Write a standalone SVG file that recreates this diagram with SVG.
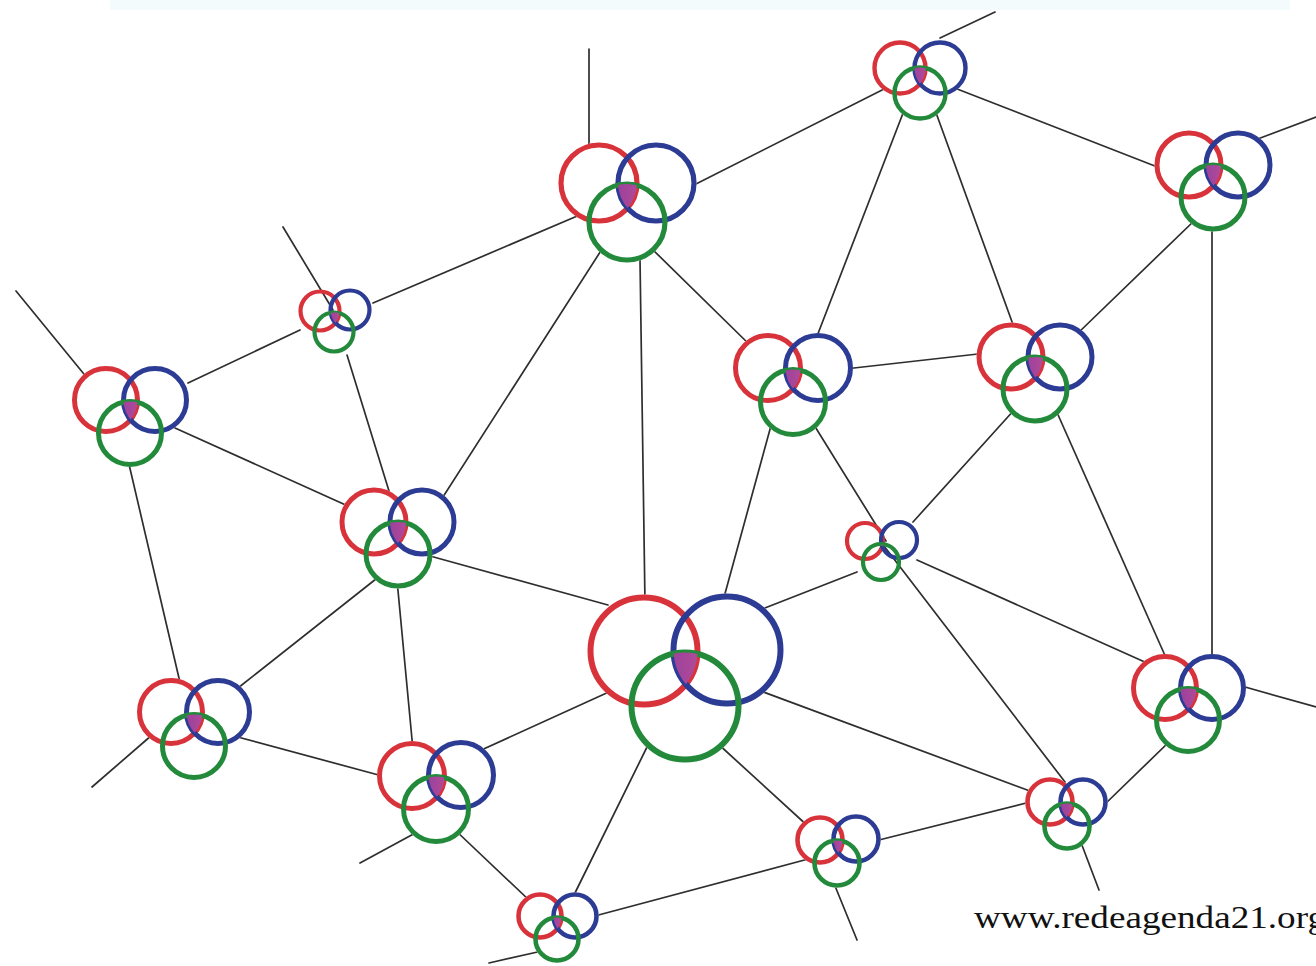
<svg xmlns="http://www.w3.org/2000/svg" width="1316" height="966" viewBox="0 0 1316 966">
<style>
.edge{stroke:#2e2e2e;stroke-width:1.7;fill:none;stroke-linecap:round}
.bg{fill:#fff;stroke:#fff}
.r{fill:none;stroke:#d8333b}
.b{fill:none;stroke:#2c3b93}
.g{fill:none;stroke:#238a3b}
.tri{fill:url(#purp);stroke:none}
.lbl{font-family:"Liberation Serif","Times New Roman",serif;font-size:31px;fill:#111}
</style>
<defs>
<linearGradient id="purp" x1="0" y1="0" x2="1" y2="0"><stop offset="0" stop-color="#7f3aa2"/><stop offset="0.6" stop-color="#8e3c9f"/><stop offset="1" stop-color="#b04a98"/></linearGradient>
<clipPath id="cAb"><circle cx="940" cy="68" r="25.5"/></clipPath><clipPath id="cAg"><circle cx="920" cy="93" r="25.5"/></clipPath>
<clipPath id="cBb"><circle cx="656" cy="183" r="38"/></clipPath><clipPath id="cBg"><circle cx="627" cy="222" r="38"/></clipPath>
<clipPath id="cCb"><circle cx="1238" cy="165" r="32"/></clipPath><clipPath id="cCg"><circle cx="1213" cy="197" r="32"/></clipPath>
<clipPath id="cDb"><circle cx="350" cy="310" r="19.5"/></clipPath><clipPath id="cDg"><circle cx="334" cy="332" r="19.5"/></clipPath>
<clipPath id="cEb"><circle cx="155" cy="400" r="31.5"/></clipPath><clipPath id="cEg"><circle cx="130" cy="433" r="31.5"/></clipPath>
<clipPath id="cFb"><circle cx="818" cy="368" r="32.5"/></clipPath><clipPath id="cFg"><circle cx="793" cy="402" r="32.5"/></clipPath>
<clipPath id="cGb"><circle cx="1060" cy="357" r="32"/></clipPath><clipPath id="cGg"><circle cx="1035" cy="389" r="32"/></clipPath>
<clipPath id="cHb"><circle cx="422" cy="522" r="32"/></clipPath><clipPath id="cHg"><circle cx="398" cy="554" r="32"/></clipPath>
<clipPath id="cIb"><circle cx="899" cy="540" r="18"/></clipPath><clipPath id="cIg"><circle cx="881" cy="562" r="18"/></clipPath>
<clipPath id="cJb"><circle cx="727" cy="650" r="53.5"/></clipPath><clipPath id="cJg"><circle cx="685" cy="706" r="53.5"/></clipPath>
<clipPath id="cKb"><circle cx="1212" cy="688" r="31.5"/></clipPath><clipPath id="cKg"><circle cx="1188" cy="720" r="31.5"/></clipPath>
<clipPath id="cLb"><circle cx="218" cy="712" r="31.5"/></clipPath><clipPath id="cLg"><circle cx="194" cy="746" r="31.5"/></clipPath>
<clipPath id="cMb"><circle cx="461" cy="775" r="32.5"/></clipPath><clipPath id="cMg"><circle cx="436" cy="809" r="32.5"/></clipPath>
<clipPath id="cNb"><circle cx="1083" cy="802" r="22.5"/></clipPath><clipPath id="cNg"><circle cx="1067" cy="826" r="22.5"/></clipPath>
<clipPath id="cOb"><circle cx="856" cy="839" r="22.5"/></clipPath><clipPath id="cOg"><circle cx="837" cy="863" r="22.5"/></clipPath>
<clipPath id="cPb"><circle cx="575" cy="916" r="21.5"/></clipPath><clipPath id="cPg"><circle cx="557" cy="939" r="21.5"/></clipPath>
</defs>
<rect x="0" y="0" width="1316" height="966" fill="#fff"/>
<rect x="110" y="0" width="1180" height="10" fill="#f3fbfd"/>
<g id="connectors">
<line class="edge" x1="589" y1="49" x2="589" y2="150"/>
<line class="edge" x1="995" y1="12" x2="940" y2="38"/>
<line class="edge" x1="690" y1="187" x2="890" y2="86"/>
<line class="edge" x1="952" y1="87" x2="1160" y2="168"/>
<line class="edge" x1="905" y1="108" x2="814" y2="344"/>
<line class="edge" x1="935" y1="110" x2="1015" y2="330"/>
<line class="edge" x1="1255" y1="140" x2="1316" y2="117"/>
<line class="edge" x1="1196" y1="219" x2="1077" y2="334"/>
<line class="edge" x1="1212" y1="225" x2="1212" y2="660"/>
<line class="edge" x1="373" y1="303" x2="582" y2="214"/>
<line class="edge" x1="604" y1="246" x2="441" y2="500"/>
<line class="edge" x1="640" y1="259" x2="645" y2="603"/>
<line class="edge" x1="649" y1="246" x2="753" y2="348"/>
<line class="edge" x1="283" y1="227" x2="333" y2="310"/>
<line class="edge" x1="300" y1="330" x2="188" y2="383"/>
<line class="edge" x1="347" y1="355" x2="389" y2="491"/>
<line class="edge" x1="16" y1="291" x2="88" y2="379"/>
<line class="edge" x1="175" y1="428" x2="359" y2="511"/>
<line class="edge" x1="128" y1="460" x2="182" y2="691"/>
<line class="edge" x1="845" y1="369" x2="978" y2="354"/>
<line class="edge" x1="772" y1="422" x2="723" y2="601"/>
<line class="edge" x1="814" y1="425" x2="886" y2="541"/>
<line class="edge" x1="1015" y1="409" x2="913" y2="522"/>
<line class="edge" x1="1055" y1="408" x2="1167" y2="660"/>
<line class="edge" x1="430" y1="556" x2="608" y2="605"/>
<line class="edge" x1="381" y1="575" x2="238" y2="688"/>
<line class="edge" x1="397" y1="580" x2="413" y2="750"/>
<line class="edge" x1="857" y1="572" x2="757" y2="611"/>
<line class="edge" x1="917" y1="560" x2="1147" y2="663"/>
<line class="edge" x1="884" y1="546" x2="1065" y2="782"/>
<line class="edge" x1="611" y1="691" x2="477" y2="752"/>
<line class="edge" x1="648" y1="745" x2="573" y2="897"/>
<line class="edge" x1="716" y1="742" x2="810" y2="828"/>
<line class="edge" x1="758" y1="690" x2="1030" y2="791"/>
<line class="edge" x1="1238" y1="685" x2="1316" y2="707"/>
<line class="edge" x1="1170" y1="741" x2="1103" y2="806"/>
<line class="edge" x1="92" y1="787" x2="152" y2="735"/>
<line class="edge" x1="234" y1="736" x2="386" y2="777"/>
<line class="edge" x1="360" y1="863" x2="419" y2="831"/>
<line class="edge" x1="454" y1="829" x2="530" y2="901"/>
<line class="edge" x1="1080" y1="840" x2="1099" y2="890"/>
<line class="edge" x1="871" y1="842" x2="1034" y2="801"/>
<line class="edge" x1="833" y1="881" x2="857" y2="940"/>
<line class="edge" x1="591" y1="917" x2="812" y2="858"/>
<line class="edge" x1="489" y1="963" x2="542" y2="951"/>
</g>
<g id="node-A" stroke-width="4.4">
<circle class="bg" cx="900" cy="68" r="25.5"/><circle class="bg" cx="940" cy="68" r="25.5"/><circle class="bg" cx="920" cy="93" r="25.5"/>
<circle class="r" cx="900" cy="68" r="25.5"/><circle class="b" cx="940" cy="68" r="25.5"/><circle class="g" cx="920" cy="93" r="25.5"/>
<g clip-path="url(#cAb)"><circle class="tri" cx="900" cy="68" r="25.5" clip-path="url(#cAg)"/></g>
</g>
<g id="node-B" stroke-width="5.2">
<circle class="bg" cx="599" cy="183" r="38"/><circle class="bg" cx="656" cy="183" r="38"/><circle class="bg" cx="627" cy="222" r="38"/>
<circle class="r" cx="599" cy="183" r="38"/><circle class="b" cx="656" cy="183" r="38"/><circle class="g" cx="627" cy="222" r="38"/>
<g clip-path="url(#cBb)"><circle class="tri" cx="599" cy="183" r="38" clip-path="url(#cBg)"/></g>
</g>
<g id="node-C" stroke-width="5">
<circle class="bg" cx="1189" cy="165" r="32"/><circle class="bg" cx="1238" cy="165" r="32"/><circle class="bg" cx="1213" cy="197" r="32"/>
<circle class="r" cx="1189" cy="165" r="32"/><circle class="b" cx="1238" cy="165" r="32"/><circle class="g" cx="1213" cy="197" r="32"/>
<g clip-path="url(#cCb)"><circle class="tri" cx="1189" cy="165" r="32" clip-path="url(#cCg)"/></g>
</g>
<g id="node-D" stroke-width="4.2">
<circle class="r" cx="320" cy="311" r="19.5"/><circle class="b" cx="350" cy="310" r="19.5"/><circle class="g" cx="334" cy="332" r="19.5"/>
<g clip-path="url(#cDb)"><circle class="tri" cx="320" cy="311" r="19.5" clip-path="url(#cDg)"/></g>
</g>
<g id="node-E" stroke-width="5">
<circle class="bg" cx="106" cy="400" r="31.5"/><circle class="bg" cx="155" cy="400" r="31.5"/><circle class="bg" cx="130" cy="433" r="31.5"/>
<circle class="r" cx="106" cy="400" r="31.5"/><circle class="b" cx="155" cy="400" r="31.5"/><circle class="g" cx="130" cy="433" r="31.5"/>
<g clip-path="url(#cEb)"><circle class="tri" cx="106" cy="400" r="31.5" clip-path="url(#cEg)"/></g>
</g>
<g id="node-F" stroke-width="5">
<circle class="bg" cx="768" cy="368" r="32.5"/><circle class="bg" cx="818" cy="368" r="32.5"/><circle class="bg" cx="793" cy="402" r="32.5"/>
<circle class="r" cx="768" cy="368" r="32.5"/><circle class="b" cx="818" cy="368" r="32.5"/><circle class="g" cx="793" cy="402" r="32.5"/>
<g clip-path="url(#cFb)"><circle class="tri" cx="768" cy="368" r="32.5" clip-path="url(#cFg)"/></g>
</g>
<g id="node-G" stroke-width="5">
<circle class="bg" cx="1011" cy="357" r="32"/><circle class="bg" cx="1060" cy="357" r="32"/><circle class="bg" cx="1035" cy="389" r="32"/>
<circle class="r" cx="1011" cy="357" r="32"/><circle class="b" cx="1060" cy="357" r="32"/><circle class="g" cx="1035" cy="389" r="32"/>
<g clip-path="url(#cGb)"><circle class="tri" cx="1011" cy="357" r="32" clip-path="url(#cGg)"/></g>
</g>
<g id="node-H" stroke-width="5">
<circle class="bg" cx="374" cy="522" r="32"/><circle class="bg" cx="422" cy="522" r="32"/><circle class="bg" cx="398" cy="554" r="32"/>
<circle class="r" cx="374" cy="522" r="32"/><circle class="b" cx="422" cy="522" r="32"/><circle class="g" cx="398" cy="554" r="32"/>
<g clip-path="url(#cHb)"><circle class="tri" cx="374" cy="522" r="32" clip-path="url(#cHg)"/></g>
</g>
<g id="node-I" stroke-width="4.2">
<circle class="r" cx="865" cy="541" r="18"/><circle class="b" cx="899" cy="540" r="18"/><circle class="g" cx="881" cy="562" r="18"/>
<g clip-path="url(#cIb)"><circle class="tri" cx="865" cy="541" r="18" clip-path="url(#cIg)"/></g>
</g>
<g id="node-J" stroke-width="6">
<circle class="bg" cx="644" cy="651" r="53.5"/><circle class="bg" cx="727" cy="650" r="53.5"/><circle class="bg" cx="685" cy="706" r="53.5"/>
<circle class="r" cx="644" cy="651" r="53.5"/><circle class="b" cx="727" cy="650" r="53.5"/><circle class="g" cx="685" cy="706" r="53.5"/>
<g clip-path="url(#cJb)"><circle class="tri" cx="644" cy="651" r="53.5" clip-path="url(#cJg)"/></g>
</g>
<g id="node-K" stroke-width="5">
<circle class="bg" cx="1165" cy="688" r="31.5"/><circle class="bg" cx="1212" cy="688" r="31.5"/><circle class="bg" cx="1188" cy="720" r="31.5"/>
<circle class="r" cx="1165" cy="688" r="31.5"/><circle class="b" cx="1212" cy="688" r="31.5"/><circle class="g" cx="1188" cy="720" r="31.5"/>
<g clip-path="url(#cKb)"><circle class="tri" cx="1165" cy="688" r="31.5" clip-path="url(#cKg)"/></g>
</g>
<g id="node-L" stroke-width="5">
<circle class="bg" cx="171" cy="712" r="31.5"/><circle class="bg" cx="218" cy="712" r="31.5"/><circle class="bg" cx="194" cy="746" r="31.5"/>
<circle class="r" cx="171" cy="712" r="31.5"/><circle class="b" cx="218" cy="712" r="31.5"/><circle class="g" cx="194" cy="746" r="31.5"/>
<g clip-path="url(#cLb)"><circle class="tri" cx="171" cy="712" r="31.5" clip-path="url(#cLg)"/></g>
</g>
<g id="node-M" stroke-width="5">
<circle class="bg" cx="412" cy="776" r="32.5"/><circle class="bg" cx="461" cy="775" r="32.5"/><circle class="bg" cx="436" cy="809" r="32.5"/>
<circle class="r" cx="412" cy="776" r="32.5"/><circle class="b" cx="461" cy="775" r="32.5"/><circle class="g" cx="436" cy="809" r="32.5"/>
<g clip-path="url(#cMb)"><circle class="tri" cx="412" cy="776" r="32.5" clip-path="url(#cMg)"/></g>
</g>
<g id="node-N" stroke-width="4.6">
<circle class="bg" cx="1050" cy="802" r="22.5"/><circle class="bg" cx="1083" cy="802" r="22.5"/><circle class="bg" cx="1067" cy="826" r="22.5"/>
<circle class="r" cx="1050" cy="802" r="22.5"/><circle class="b" cx="1083" cy="802" r="22.5"/><circle class="g" cx="1067" cy="826" r="22.5"/>
<g clip-path="url(#cNb)"><circle class="tri" cx="1050" cy="802" r="22.5" clip-path="url(#cNg)"/></g>
</g>
<g id="node-O" stroke-width="4.6">
<circle class="bg" cx="820" cy="840" r="22.5"/><circle class="bg" cx="856" cy="839" r="22.5"/><circle class="bg" cx="837" cy="863" r="22.5"/>
<circle class="r" cx="820" cy="840" r="22.5"/><circle class="b" cx="856" cy="839" r="22.5"/><circle class="g" cx="837" cy="863" r="22.5"/>
<g clip-path="url(#cOb)"><circle class="tri" cx="820" cy="840" r="22.5" clip-path="url(#cOg)"/></g>
</g>
<g id="node-P" stroke-width="4.6">
<circle class="bg" cx="540" cy="916" r="21.5"/><circle class="bg" cx="575" cy="916" r="21.5"/><circle class="bg" cx="557" cy="939" r="21.5"/>
<circle class="r" cx="540" cy="916" r="21.5"/><circle class="b" cx="575" cy="916" r="21.5"/><circle class="g" cx="557" cy="939" r="21.5"/>
<g clip-path="url(#cPb)"><circle class="tri" cx="540" cy="916" r="21.5" clip-path="url(#cPg)"/></g>
</g>
<text id="credit" class="lbl" x="974" y="928" textLength="352" lengthAdjust="spacingAndGlyphs">www.redeagenda21.org</text>
</svg>
